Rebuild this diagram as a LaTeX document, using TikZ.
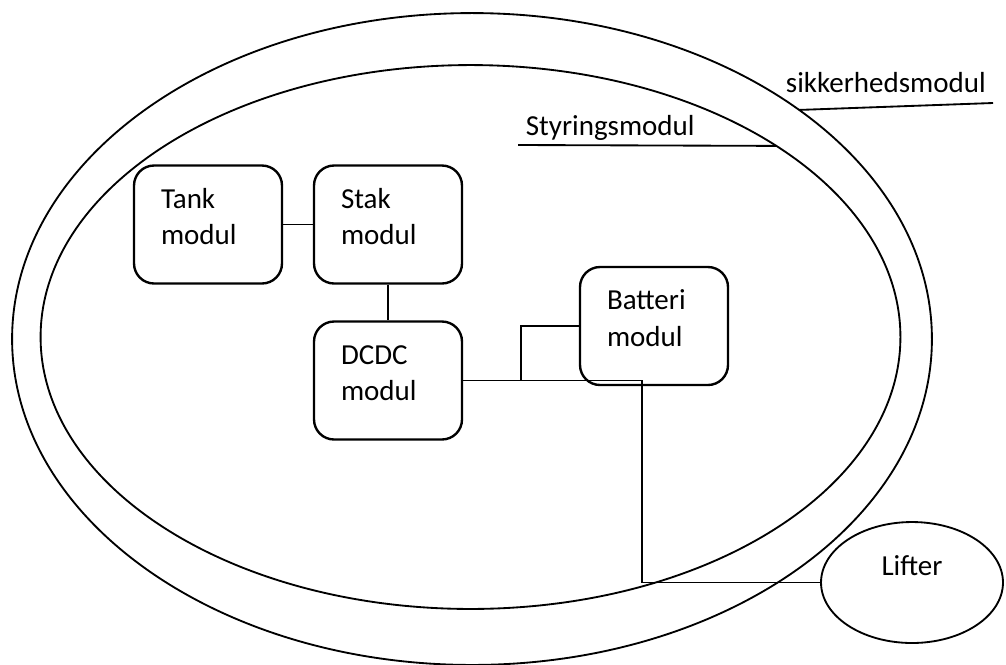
\documentclass[tikz,border=0pt]{standalone}
\usepackage{fontspec}
\setmainfont{Carlito}
\usetikzlibrary{shapes.geometric}

\tikzset{
    modbox/.style={draw, rounded corners=0.4cm, line width=1.35pt, align=left,
        text width=1.88cm, inner xsep=0.54cm, inner ysep=0pt,
        minimum height=2.36cm, text height=0.4cm, text depth=1.06cm},
    ring/.style={draw, ellipse, inner sep=0pt, outer sep=0pt},
    tag/.style={anchor=base west, inner sep=0pt}
}

\begin{document}
\begin{tikzpicture}[x=0.02cm, y=-0.02cm, line width=1.05pt,
    font=\fontsize{16.5}{21}\selectfont]
    \useasboundingbox (0,0) rectangle (1006,664);
    % the two rings
    \node[ring, minimum width=18.4cm, minimum height=13.04cm] (sikker) at (472,339) {};
    \node[ring, minimum width=17.2cm, minimum height=10.88cm] (styring) at (470.5,337) {};
    % ring labels with leader lines
    \node[tag] (sikkertag) at (785,92) {sikkerhedsmodul};
    \node[tag] (styrtag) at (525,135) {Styringsmodul};
    \coordinate (sikkerend) at (993,103);
    \coordinate (styrend) at (518,145);
    \draw (sikker.35.2) -- (sikkerend);
    \draw (styrend) -- (styring.32.4);
    % modules
    \node[modbox] (tank) at (208,224.5) {Tank\\modul};
    \node[modbox] (stak) at (388,224.5) {Stak\\modul};
    \node[modbox] (dcdc) at (388,380.5) {DCDC\\modul};
    \node[modbox] (batt) at (654,326) {Batteri\\modul};
    \node[ring, minimum width=3.64cm, minimum height=2.42cm,
        text height=0.4cm, text depth=0.7cm] (lifter) at (912,582.5) {Lifter};
    % wiring
    \coordinate (tap) at (521,0);
    \coordinate (bend) at (642,0);
    \draw (tank) -- (stak);
    \draw (stak) -- (dcdc);
    \draw (dcdc.east) -- (dcdc.east -| bend) |- (lifter.west);
    \draw (dcdc.east -| tap) |- (batt.west);
\end{tikzpicture}
\end{document}
